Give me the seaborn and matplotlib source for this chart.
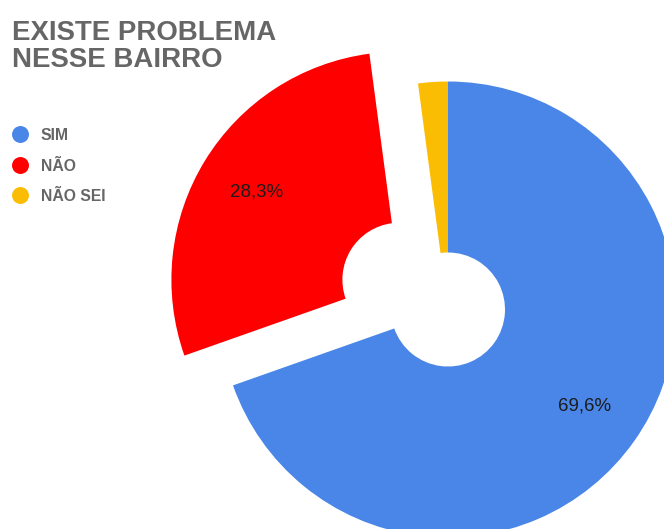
import matplotlib
matplotlib.use("Agg")
import matplotlib.pyplot as plt
from matplotlib.lines import Line2D
import seaborn as sns

# values
categories = ["SIM", "NÃO", "NÃO SEI"]
shares = [69.6, 28.3, 2.1]
colors = ["#4a86e8", "#ff0000", "#fbbc04"]
title = "EXISTE PROBLEMA\nNESSE BAIRRO"

sns.set_theme(style="white")
plt.rcParams["font.family"] = ["Liberation Sans", "DejaVu Sans"]

W, H = 664, 529
fig = plt.figure(figsize=(W / 100, H / 100), dpi=100)
ax = fig.add_axes([0, 0, 1, 1])

R = 228
hole = 57
center = (448, H - 309.5)


def fmt_pct(p):
    if p < 5:
        return ""
    return f"{p:.1f}%".replace(".", ",")


wedges, texts, autotexts = ax.pie(
    shares,
    colors=sns.color_palette(colors),
    startangle=90,
    counterclock=False,
    radius=R,
    center=center,
    explode=[0, 57, 0],
    wedgeprops=dict(width=R - hole, linewidth=0),
    autopct=fmt_pct,
    pctdistance=0.735,
    textprops=dict(fontsize=13.5, color="#1c1c1c"),
)

ax.set_xlim(0, W)
ax.set_ylim(0, H)
ax.set_aspect("auto")
ax.axis("off")

fig.text(12 / W, 1 - 20 / H, title, fontsize=19.9, fontweight="bold",
         color="#666666", ha="left", va="top", linespacing=1.04)

handles = [Line2D([], [], marker="o", linestyle="", markersize=12.2,
                  markerfacecolor=c, markeredgewidth=0) for c in colors]
leg = fig.legend(handles, categories, loc="upper left",
                 bbox_to_anchor=(10.8 / W, 1 - 128 / H),
                 frameon=False, fontsize=11.3, borderpad=0, borderaxespad=0,
                 handlelength=1.17, handletextpad=0.74, labelspacing=0.95,
                 handleheight=1.0)
for t in leg.get_texts():
    t.set_color("#666666")
    t.set_fontweight("bold")

fig.savefig("out.png", dpi=100)
plt.close(fig)
